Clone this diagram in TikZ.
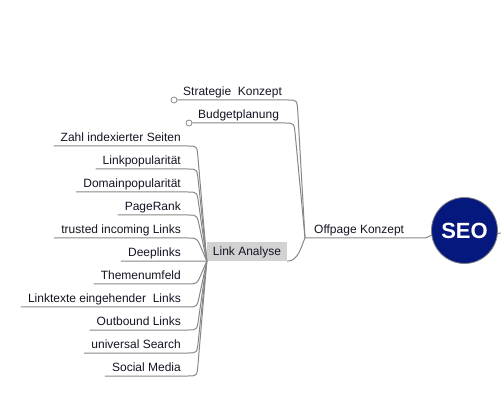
\documentclass[tikz,border=0pt]{standalone}
\usepackage{fontspec}
\setmainfont{Liberation Sans}
\usetikzlibrary{calc}
\definecolor{seoblue}{RGB}{4,24,126}
\definecolor{conncol}{RGB}{135,135,135}
\definecolor{txtcol}{RGB}{20,20,35}
\definecolor{boxgray}{RGB}{210,210,210}
\begin{document}
\begin{tikzpicture}[x=1pt,y=-1pt,
  conn/.style={draw=conncol,line width=1pt},
  child/.style={anchor=south east,inner xsep=7pt,inner ysep=0pt,text height=9pt,text depth=4pt,text=txtcol,font=\fontsize{12pt}{14pt}\selectfont},
  branch/.style={anchor=south west,inner xsep=6pt,inner ysep=0pt,text height=9pt,text depth=4pt,text=txtcol,font=\fontsize{12pt}{14pt}\selectfont},
  dot/.style={circle,draw=conncol,fill=white,line width=0.8pt,minimum size=6pt,inner sep=0pt},
  lbox/.style={fill=boxgray,minimum width=80pt,minimum height=19pt,inner sep=0pt,text height=9pt,text depth=0pt,text=txtcol,font=\fontsize{12pt}{14pt}\selectfont},
  seonode/.style={circle,fill=seoblue,draw=gray,line width=0.8pt,minimum size=66pt,inner sep=0pt,text=white,font=\fontsize{22pt}{24pt}\selectfont\bfseries}
]
\useasboundingbox (0,0) rectangle (501,414);

% central node
\node[seonode] (seo) at (464.5,230.5) {SEO};
\coordinate (edge) at (501,233);
\draw[conn] (seo.355) -- (edge);

% Offpage Konzept
\node[branch,inner xsep=9pt] (offpage) at (305,238) {Offpage Konzept};
\draw[conn] (offpage.south west) -- ([xshift=10pt]offpage.south east)
  .. controls ([xshift=15pt]offpage.south east) and ([xshift=-3pt,yshift=-1pt]seo.188) .. (seo.188);

% Strategie / Budget
\node[dot] (sdot) at (174,100) {};
\node[branch] (strat) at (177,100) {Strategie~ Konzept};
\node[dot] (bdot) at (189,123) {};
\node[branch] (budget) at (192,123) {Budgetplanung};
\draw[conn] (sdot.east) -- (strat.south east)
  .. controls ([xshift=9pt]strat.south east) .. ($([xshift=9pt]strat.south east)!13pt!(offpage.south west)$)
  -- (offpage.south west);
\draw[conn] (bdot.east) -- (budget.south east)
  .. controls ([xshift=9pt]budget.south east) .. ($([xshift=9pt]budget.south east)!13pt!(offpage.south west)$)
  -- (offpage.south west);

% Link Analyse
\node[lbox] (la) at (247,251.5) {Link Analyse};
\draw[conn] (la.south east) .. controls ([xshift=11pt]la.south east) and ([xshift=-4pt,yshift=-9pt]offpage.south west) .. (offpage.south west);

% children of Link Analyse
\node[child] (c1)  at (188,146) {Zahl indexierter Seiten};
\node[child] (c2)  at (188,169) {Linkpopularität};
\node[child] (c3)  at (188,192) {Domainpopularität};
\node[child] (c4)  at (188,215) {PageRank};
\node[child] (c5)  at (188,238) {trusted incoming Links};
\node[child] (c6)  at (188,261) {Deeplinks};
\node[child] (c7)  at (188,284) {Themenumfeld};
\node[child] (c8)  at (188,307) {Linktexte eingehender~ Links};
\node[child] (c9)  at (188,330) {Outbound Links};
\node[child] (c10) at (188,353) {universal Search};
\node[child] (c11) at (188,376) {Social Media};
\foreach \c in {c1,c2,c3,c4,c5,c7,c8,c9,c10,c11}{
  \draw[conn] (\c.south west) -- (\c.south east)
    .. controls ([xshift=9pt]\c.south east) .. ($([xshift=9pt]\c.south east)!12pt!(la.south west)$)
    -- (la.south west);
}
\draw[conn] (c6.south west) -- (la.south west);
\end{tikzpicture}
\end{document}
